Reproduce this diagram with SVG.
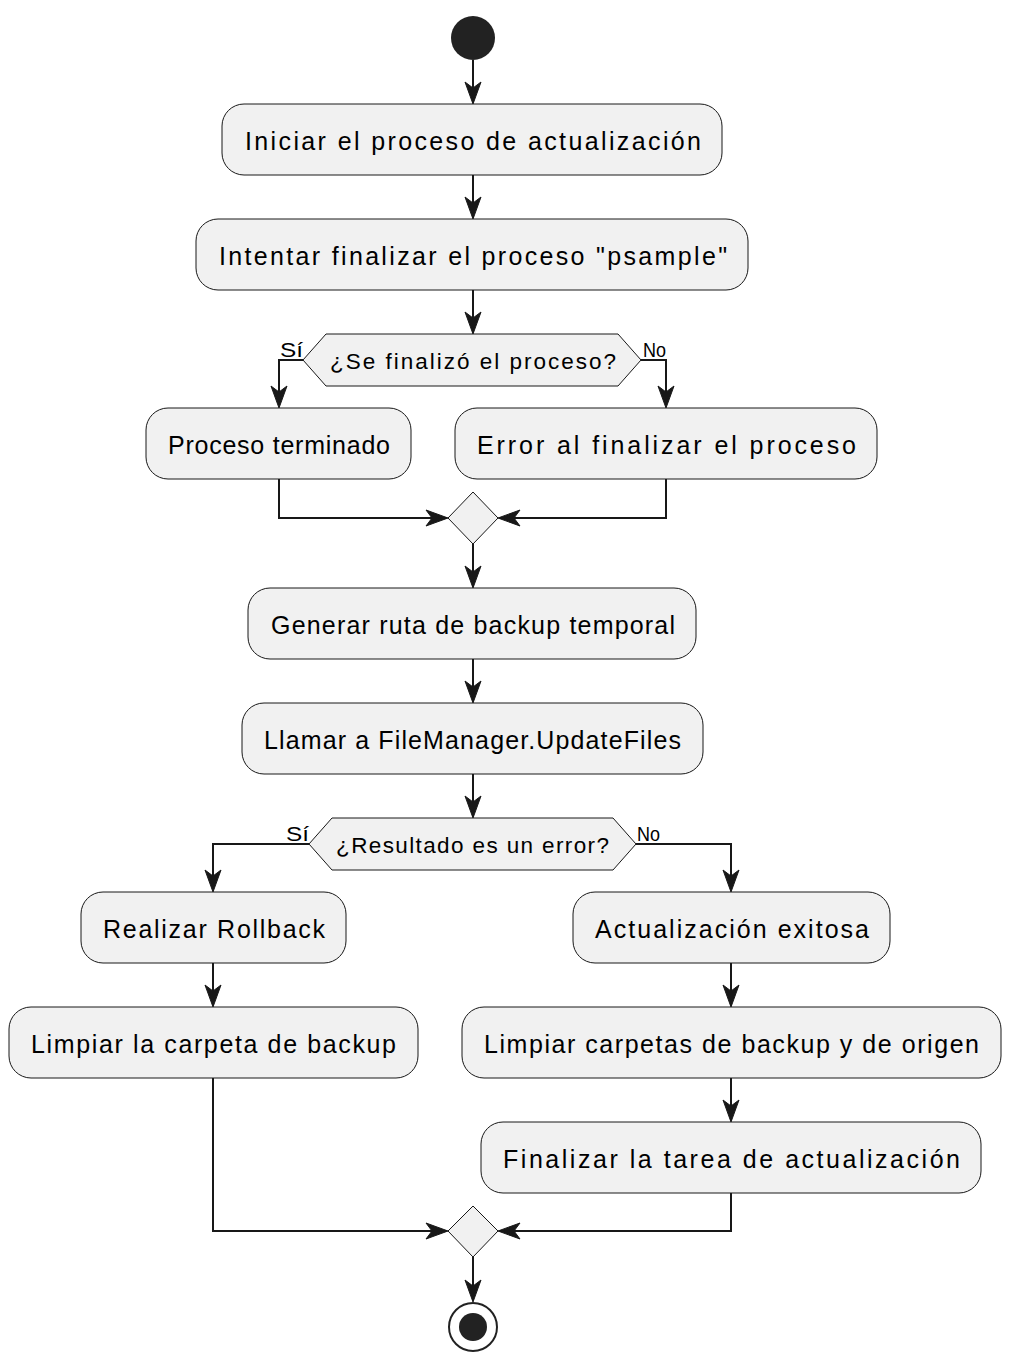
<svg xmlns="http://www.w3.org/2000/svg" width="1018" height="1365" viewBox="0 0 1018 1365">
<style>
.box{fill:#F1F1F1;stroke:#181818;stroke-width:1}
.dec{fill:#F1F1F1;stroke:#181818;stroke-width:1}
.t{font-family:"Liberation Sans",Arial,sans-serif;font-size:25px;fill:#000;text-anchor:start}
.td{font-family:"Liberation Sans",Arial,sans-serif;font-size:22.5px;fill:#000}
.tl{font-family:"Liberation Sans",Arial,sans-serif;font-size:21px;fill:#000}
.ln{fill:none;stroke:#181818;stroke-width:2}
.ah{fill:#181818;stroke:#181818;stroke-width:1}
</style>
<defs>
<polygon id="ad" class="ah" points="0,0 -8,-22 0,-16 8,-22"/>
<polygon id="ar" class="ah" points="0,0 -22,-8 -16,0 -22,8"/>
<polygon id="al" class="ah" points="0,0 22,-8 16,0 22,8"/>
</defs>
<g id="connectors">
<path class="ln" d="M473,60 V102"/><use href="#ad" x="473" y="104"/>
<path class="ln" d="M473,175 V217"/><use href="#ad" x="473" y="219"/>
<path class="ln" d="M473,290 V332"/><use href="#ad" x="473" y="334"/>
<path class="ln" d="M303,360 H279 V405"/><use href="#ad" x="279" y="408"/>
<path class="ln" d="M641,360 H666 V405"/><use href="#ad" x="666" y="408"/>
<path class="ln" d="M279,479 V518 H446"/><use href="#ar" x="448" y="518"/>
<path class="ln" d="M666,479 V518 H500"/><use href="#al" x="498" y="518"/>
<path class="ln" d="M473,544 V586"/><use href="#ad" x="473" y="588"/>
<path class="ln" d="M473,659 V701"/><use href="#ad" x="473" y="703"/>
<path class="ln" d="M473,774 V816"/><use href="#ad" x="473" y="818"/>
<path class="ln" d="M309,844 H213 V889"/><use href="#ad" x="213" y="892"/>
<path class="ln" d="M636,844 H731 V889"/><use href="#ad" x="731" y="892"/>
<path class="ln" d="M213,963 V1005"/><use href="#ad" x="213" y="1007"/>
<path class="ln" d="M731,963 V1005"/><use href="#ad" x="731" y="1007"/>
<path class="ln" d="M731,1078 V1120"/><use href="#ad" x="731" y="1122"/>
<path class="ln" d="M213,1078 V1231 H446"/><use href="#ar" x="448" y="1231"/>
<path class="ln" d="M731,1193 V1231 H500"/><use href="#al" x="498" y="1231"/>
<path class="ln" d="M473,1257 V1300"/><use href="#ad" x="473" y="1302"/>
</g>
<g id="start"><circle cx="473" cy="38" r="22" fill="#222222"/></g>
<g id="n1"><rect class="box" x="222" y="104" width="500" height="71" rx="22"/><text class="t" x="245" y="150" textLength="456" lengthAdjust="spacing">Iniciar el proceso de actualización</text></g>
<g id="n2"><rect class="box" x="196" y="219" width="552" height="71" rx="22"/><text class="t" x="219" y="265" textLength="508" lengthAdjust="spacing">Intentar finalizar el proceso "psample"</text></g>
<g id="d1"><polygon class="dec" points="303,360 326,334 618,334 641,360 618,386 326,386"/><text class="td" x="330" y="369" textLength="286" lengthAdjust="spacing">¿Se finalizó el proceso?</text>
<text class="tl" x="280" y="357" textLength="23" lengthAdjust="spacingAndGlyphs">Sí</text><text class="tl" x="643" y="357" textLength="23" lengthAdjust="spacingAndGlyphs">No</text></g>
<g id="n3"><rect class="box" x="146" y="408" width="265" height="71" rx="22"/><text class="t" x="168" y="454" textLength="222" lengthAdjust="spacing">Proceso terminado</text></g>
<g id="n4"><rect class="box" x="455" y="408" width="422" height="71" rx="22"/><text class="t" x="477" y="454" textLength="379" lengthAdjust="spacing">Error al finalizar el proceso</text></g>
<g id="m1"><polygon class="dec" points="473,492 498,518 473,544 448,518"/></g>
<g id="n5"><rect class="box" x="248" y="588" width="448" height="71" rx="22"/><text class="t" x="271" y="634" textLength="404" lengthAdjust="spacing">Generar ruta de backup temporal</text></g>
<g id="n6"><rect class="box" x="242" y="703" width="461" height="71" rx="22"/><text class="t" x="264" y="749" textLength="417" lengthAdjust="spacing">Llamar a FileManager.UpdateFiles</text></g>
<g id="d2"><polygon class="dec" points="309,844 332,818 613,818 636,844 613,870 332,870"/><text class="td" x="336" y="853" textLength="273" lengthAdjust="spacing">¿Resultado es un error?</text>
<text class="tl" x="286" y="841" textLength="23" lengthAdjust="spacingAndGlyphs">Sí</text><text class="tl" x="637" y="841" textLength="23" lengthAdjust="spacingAndGlyphs">No</text></g>
<g id="n7"><rect class="box" x="81" y="892" width="265" height="71" rx="22"/><text class="t" x="103" y="938" textLength="222" lengthAdjust="spacing">Realizar Rollback</text></g>
<g id="n8"><rect class="box" x="573" y="892" width="317" height="71" rx="22"/><text class="t" x="595" y="938" textLength="274" lengthAdjust="spacing">Actualización exitosa</text></g>
<g id="n9"><rect class="box" x="9" y="1007" width="409" height="71" rx="22"/><text class="t" x="31" y="1053" textLength="365" lengthAdjust="spacing">Limpiar la carpeta de backup</text></g>
<g id="n10"><rect class="box" x="462" y="1007" width="539" height="71" rx="22"/><text class="t" x="484" y="1053" textLength="495" lengthAdjust="spacing">Limpiar carpetas de backup y de origen</text></g>
<g id="n11"><rect class="box" x="481" y="1122" width="500" height="71" rx="22"/><text class="t" x="503" y="1168" textLength="457" lengthAdjust="spacing">Finalizar la tarea de actualización</text></g>
<g id="m2"><polygon class="dec" points="473,1206 498,1231 473,1257 448,1231"/></g>
<g id="end"><circle cx="473" cy="1327" r="24" fill="none" stroke="#222222" stroke-width="2"/><circle cx="473" cy="1327" r="14" fill="#222222"/></g>
</svg>
